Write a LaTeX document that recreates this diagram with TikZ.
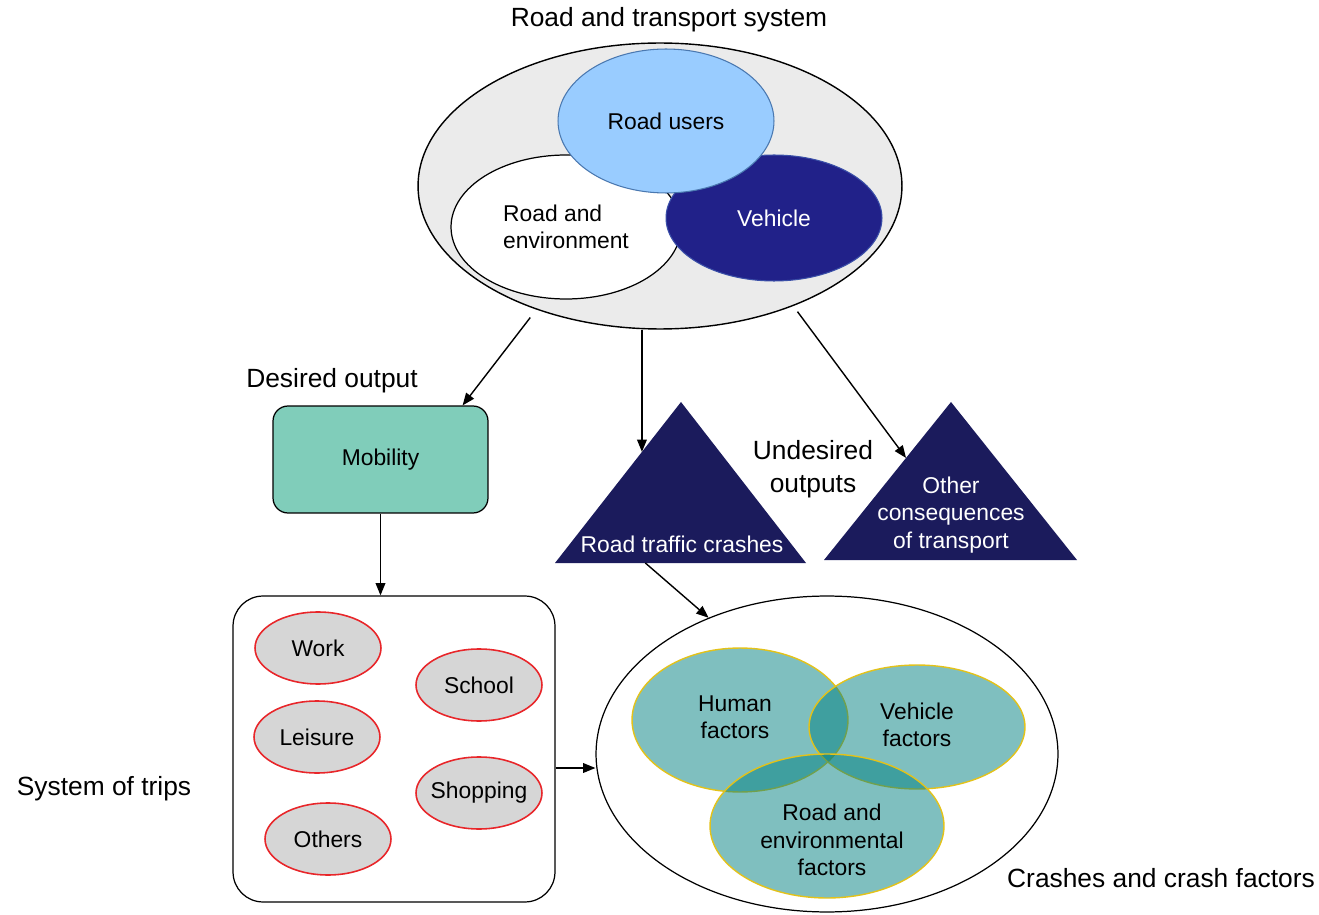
\documentclass[tikz,border=0pt]{standalone}
\usepackage{fontspec}
\setmainfont{Liberation Sans}
\usetikzlibrary{shapes.geometric,arrows.meta,calc}
\definecolor{sysgray}{HTML}{EBEBEB}
\definecolor{userblue}{HTML}{99CCFF}
\definecolor{userborder}{HTML}{4A78B0}
\definecolor{vehnavy}{HTML}{212189}
\definecolor{vehborder}{HTML}{3A4FA8}
\definecolor{trinavy}{HTML}{1B1B5C}
\definecolor{mobteal}{HTML}{80CDBA}
\definecolor{tripgray}{HTML}{D6D6D6}
\definecolor{tripred}{HTML}{E8262A}
\definecolor{facteal}{HTML}{008080}
\definecolor{facyellow}{HTML}{E3C21A}
\begin{document}
\begin{tikzpicture}[x=0.02cm,y=-0.02cm,
  big/.style={font=\fontsize{15}{18.5}\selectfont},
  small/.style={font=\fontsize{13}{15.6}\selectfont},
  ell/.style={ellipse,inner sep=0pt},
  arr/.style={-{Triangle[length=7pt,width=5.5pt]},line width=0.8pt},
  trip/.style={ell,inner xsep=-4pt,minimum width=2.52cm,minimum height=1.44cm,fill=tripgray,draw=tripred,line width=0.9pt,small},
  fac/.style={ell,fill=facteal,fill opacity=0.5,draw=facyellow,draw opacity=1,line width=0.8pt},
]
\useasboundingbox (0,0) rectangle (1319,915);

% --- Road and transport system ---
\node[big] (systitle) at (669,20) {Road and transport system};
\node[ell,minimum width=9.68cm,minimum height=5.72cm,fill=sysgray,draw=black,line width=0.8pt] (sys) at (660,186) {};
\node[ell,minimum width=4.6cm,minimum height=2.88cm,fill=white,draw=black,line width=0.7pt,small,align=left] (roadenv) at (566,227) {Road and\\environment};
\node[ell,minimum width=4.32cm,minimum height=2.52cm,fill=vehnavy,draw=vehborder,line width=0.6pt,small,text=white] (vehicle) at (774,218) {Vehicle};
\node[ell,minimum width=4.32cm,minimum height=2.88cm,fill=userblue,draw=userborder,line width=0.6pt,small] (users) at (666,121) {Road users};

% --- Desired output ---
\node[big] (desired) at (332,381) {Desired output};
\node[rectangle,rounded corners=0.3cm,minimum width=4.3cm,minimum height=2.14cm,fill=mobteal,draw=black,line width=0.7pt,small] (mob) at (380.5,459.5) {Mobility};

% --- Undesired outputs ---
\coordinate (t1ap) at (681,402);
\coordinate (t1l) at (555,563);
\coordinate (t1r) at (806,563);
\coordinate (t2ap) at (951,402);
\coordinate (t2l) at (824,560);
\coordinate (t2r) at (1077,560);
\fill[trinavy] (t1ap) -- (t1l) -- (t1r) -- cycle;
\fill[trinavy] (t2ap) -- (t2l) -- (t2r) -- cycle;
\node[small,text=white] (rtc) at (682,544) {Road traffic crashes};
\node[small,text=white,align=center] (other) at (951,515) {Other\\consequences\\of transport};
\node[big,align=center,font=\fontsize{15}{19}\selectfont] (undesired) at (813,469) {Undesired\\outputs};

% --- System of trips ---
\node[big] (systrips) at (104,789) {System of trips};
\node[rectangle,rounded corners=0.6cm,minimum width=6.44cm,minimum height=6.12cm,draw=black,line width=0.7pt] (trips) at (394,749) {};
\node[trip] (work) at (318,648) {Work};
\node[trip] (school) at (479,685) {School};
\node[trip] (leisure) at (317,737) {Leisure};
\node[trip] (shopping) at (479,793) {Shopping};
\node[trip] (others) at (328,839) {Others};

% --- Crashes and crash factors ---
\node[ell,minimum width=9.24cm,minimum height=6.32cm,draw=black,line width=0.7pt] (crash) at (827,754) {};
\node[fac,minimum width=4.32cm,minimum height=2.88cm] (human) at (740,720) {};
\node[fac,minimum width=4.32cm,minimum height=2.48cm] (vehfac) at (917,727) {};
\node[fac,minimum width=4.68cm,minimum height=2.88cm] (roadfac) at (827,826) {};
\node[small,align=center] (humantxt) at (735,717) {Human\\factors};
\node[small,align=center] (vehfactxt) at (917,725) {Vehicle\\factors};
\node[small,align=center] (roadfactxt) at (832,840) {Road and\\environmental\\factors};
\node[big] (crashtitle) at (1161,878) {Crashes and crash factors};

% --- Connectors ---
\draw[arr,shorten <=0.2cm] (sys.225) -- ($(mob.north east)+(-26,0)$);
\coordinate (a2end) at ($(t1ap)!0.31!(t1l)$);
\draw[arr] (a2end |- sys.south) -- (a2end);
\coordinate (a3end) at ($(t2ap)!0.354!(t2l)$);
\draw[arr,shorten <=0.14cm] (sys.-42) -- (a3end);
\draw[arr] (mob.south) -- (mob.south |- trips.north);
\coordinate (t1b) at ($(t1l)!0.36!(t1r)$);
\draw[arr] (t1b) -- (crash.131);
\coordinate (tripsout) at ($(trips.east)+(0,19)$);
\draw[arr] (tripsout) -- (tripsout -| crash.west);
\end{tikzpicture}
\end{document}
